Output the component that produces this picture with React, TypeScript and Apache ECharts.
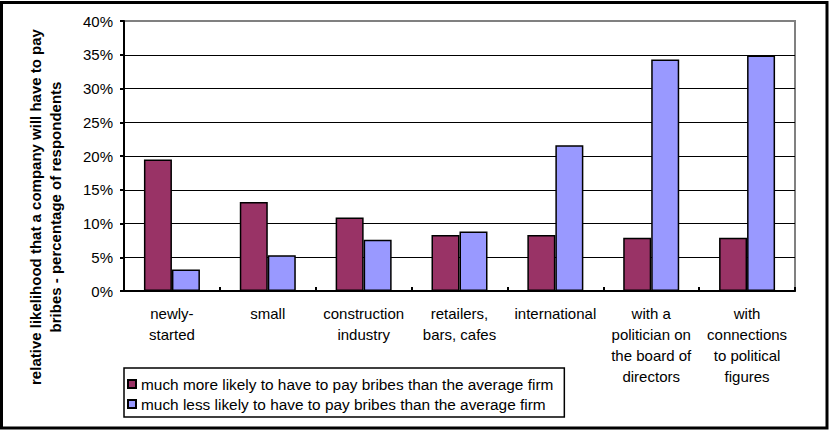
import React, { useEffect, useRef } from "react";
import * as echarts from "echarts";

const categories = [
  "newly-\nstarted",
  "small",
  "construction\nindustry",
  "retailers,\nbars, cafes",
  "international",
  "with a\npolitician on\nthe board of\ndirectors",
  "with\nconnections\nto political\nfigures",
];
const moreLikely = [19.5, 13.2, 10.9, 8.3, 8.3, 7.9, 7.9];
const lessLikely = [3.2, 5.3, 7.6, 8.8, 21.6, 34.3, 34.9];
const seriesNames = [
  "much more likely to have to pay bribes than the average firm",
  "much less likely to have to pay bribes than the average firm",
];
const yTitle = "relative likelihood that a company will have to pay\nbribes - percentage of respondents";

const FONT = "Arial, 'Liberation Sans', sans-serif";

export default function App() {
  const ref = useRef<HTMLDivElement>(null);
  useEffect(() => {
    if (!ref.current) return;
    const chart = echarts.init(ref.current, null, { renderer: "svg" });
    const splitColors = ["#000", "#000", "#000", "#000", "#000", "#000", "#000", "#000", "#808080"];
    chart.setOption({
      animation: false,
      backgroundColor: "#fff",
      textStyle: { fontFamily: FONT },
      grid: { left: 124, top: 21, right: 35, bottom: 139, show: true, borderColor: "#808080", borderWidth: 2 },
      xAxis: {
        type: "category",
        data: categories,
        axisLine: { lineStyle: { color: "#000", width: 2 } },
        axisTick: { show: true, inside: true, length: 4, lineStyle: { color: "#000", width: 2 } },
        axisLabel: { color: "#000", fontSize: 15, lineHeight: 21, margin: 12, interval: 0, fontFamily: FONT },
      },
      yAxis: {
        type: "value",
        min: 0,
        max: 40,
        interval: 5,
        axisLine: { show: true, lineStyle: { color: "#000", width: 2 } },
        axisTick: { show: true, length: 4, lineStyle: { color: "#000", width: 2 } },
        axisLabel: { color: "#000", fontSize: 15, margin: 11, formatter: "{value}%", fontFamily: FONT },
        splitLine: { show: true, lineStyle: { color: splitColors, width: 1 } },
      },
      legend: {
        orient: "vertical",
        left: 124,
        top: 368,
        padding: [7, 11, 4, 3],
        itemGap: 2,
        itemWidth: 8,
        itemHeight: 8,
        icon: "rect",
        borderColor: "#000",
        borderWidth: 1.5,
        backgroundColor: "#fff",
        textStyle: { color: "#000", fontSize: 15.4, lineHeight: 18, fontFamily: FONT },
        data: seriesNames,
      },
      graphic: [
        {
          type: "rect",
          shape: { x: 1.5, y: 2.5, width: 825.5, height: 425.5 },
          style: { fill: "none", stroke: "#000", lineWidth: 3 },
          silent: true,
          z: 100,
        },
        {
          type: "text",
          x: 45,
          y: 207,
          rotation: Math.PI / 2,
          style: {
            text: yTitle,
            font: `bold 15px ${FONT}`,
            fill: "#000",
            align: "center",
            verticalAlign: "middle",
            lineHeight: 20,
          },
        },
      ],
      series: [
        {
          name: seriesNames[0],
          type: "bar",
          data: moreLikely,
          barWidth: 28,
          barGap: "0%",
          itemStyle: { color: "#993366", borderColor: "#000", borderWidth: 1.5 },
        },
        {
          name: seriesNames[1],
          type: "bar",
          data: lessLikely,
          barWidth: 28,
          barGap: "0%",
          itemStyle: { color: "#9999FF", borderColor: "#000", borderWidth: 1.5 },
        },
      ],
    });
    return () => chart.dispose();
  }, []);
  return (
    <div
      ref={ref}
      style={{ position: "fixed", left: 0, top: 0, width: 830, height: 430 }}
    />
  );
}
